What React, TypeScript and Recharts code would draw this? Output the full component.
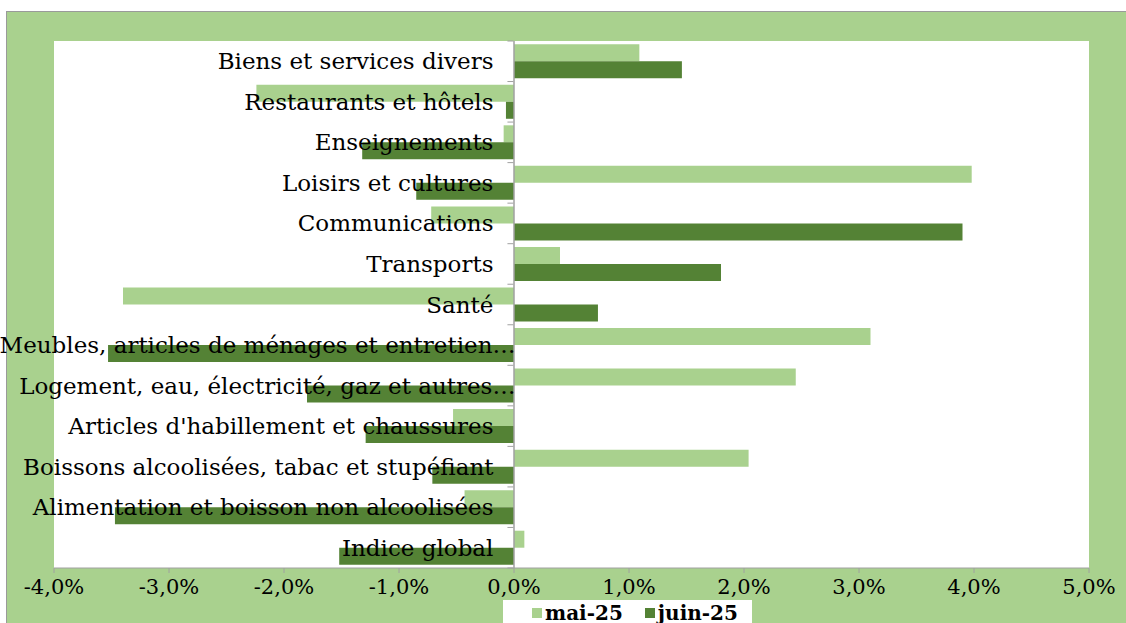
import React from "react";
import { Bar, BarChart, CartesianGrid, Legend, ReferenceLine, XAxis, YAxis } from "recharts";

const categories = [
  "Biens et services divers",
  "Restaurants et hôtels",
  "Enseignements",
  "Loisirs et cultures",
  "Communications",
  "Transports",
  "Santé",
  "Meubles, articles de ménages et entretien…",
  "Logement, eau, électricité, gaz et autres…",
  "Articles d'habillement et chaussures",
  "Boissons alcoolisées, tabac et stupéfiant",
  "Alimentation et boisson non alcoolisées",
  "Indice global",
];

const mai25 = [1.09, -2.24, -0.09, 3.98, -0.72, 0.4, -3.4, 3.1, 2.45, -0.53, 2.04, -0.43, 0.09];
const juin25 = [1.46, -0.07, -1.32, -0.85, 3.9, 1.8, 0.73, -3.53, -1.8, -1.29, -0.71, -3.47, -1.52];

const xTicks = [-4, -3, -2, -1, 0, 1, 2, 3, 4, 5];

const data = categories.map((name, i) => ({ name, mai: mai25[i], juin: juin25[i] }));

const W = 1126;
const H = 623;
const X_AXIS_H = 30;
const margin = { top: 41, right: 37, left: 53, bottom: 55 - X_AXIS_H };
const plotW = W - margin.left - margin.right;
const plotH = H - margin.top - margin.bottom - X_AXIS_H;
const zeroX = margin.left + ((0 - xTicks[0]) / (xTicks[xTicks.length - 1] - xTicks[0])) * plotW;
const band = plotH / categories.length;

const FONT = "'DejaVu Serif', serif";
const LIGHT = "#a9d18e";
const DARK = "#548235";
const GREY = "#a0a0a0";

function CategoryTick(props: any) {
  const { y, payload, index } = props;
  const label: string = payload.value;
  const long = label.endsWith("…");
  const last = index === categories.length - 1;
  return (
    <g>
      <line x1={zeroX - 6} x2={zeroX} y1={y - band / 2} y2={y - band / 2} stroke={GREY} />
      {last && <line x1={zeroX - 6} x2={zeroX} y1={y + band / 2} y2={y + band / 2} stroke={GREY} />}
      <text
        x={long ? zeroX + 2 : zeroX - 20}
        y={y}
        dy="0.35em"
        textAnchor="end"
        fill="#000"
        fontSize={23}
        fontFamily={FONT}
      >
        {label}
      </text>
    </g>
  );
}

function LegendBox(props: any) {
  const items = (props.payload || []).slice().sort((a: any, b: any) =>
    a.dataKey === "mai" ? -1 : b.dataKey === "mai" ? 1 : 0
  );
  return (
    <div
      style={{
        display: "flex",
        alignItems: "center",
        paddingLeft: 29,
        width: 249,
        height: 26,
        whiteSpace: "nowrap",
        fontFamily: FONT,
        fontWeight: "bold",
        fontSize: 20,
        color: "#000",
        boxSizing: "border-box",
      }}
    >
      {items.map((it: any) => (
        <span key={it.value} style={{ display: "inline-flex", alignItems: "center", marginRight: 22 }}>
          <span style={{ width: 10, height: 10, background: it.color, marginRight: 3, display: "inline-block" }} />
          {it.value}
        </span>
      ))}
    </div>
  );
}

export default function App() {
  return (
    <div style={{ position: "absolute", left: 0, top: 0, width: W, height: H, overflow: "hidden", background: "#fff" }}>
      <div
        style={{
          position: "absolute",
          left: 6,
          top: 11,
          width: 1300,
          height: 800,
          background: LIGHT,
          border: "1px solid #9a9a9a",
        }}
      />
      <div style={{ position: "absolute", left: 0, top: 0 }}>
        <BarChart
          width={W}
          height={H}
          data={data}
          layout="vertical"
          margin={margin}
          barCategoryGap="8%"
          barGap={0}
        >
          <CartesianGrid fill="#fff" horizontal={false} vertical={false} />
          <XAxis
            type="number"
            domain={[xTicks[0], xTicks[xTicks.length - 1]]}
            ticks={xTicks}
            height={X_AXIS_H}
            tickFormatter={(v: number) => v.toFixed(1).replace(".", ",") + "%"}
            tick={{ fill: "#000", fontSize: 21, fontFamily: FONT }}
            stroke={GREY}
            tickSize={5}
            tickMargin={6}
          />
          <YAxis
            type="category"
            dataKey="name"
            width={1}
            axisLine={false}
            tickLine={false}
            interval={0}
            tick={(p: any) => <CategoryTick {...p} />}
          />
          <Bar name="mai-25" dataKey="mai" fill={LIGHT} isAnimationActive={false} />
          <Bar name="juin-25" dataKey="juin" fill={DARK} isAnimationActive={false} />
          <ReferenceLine x={0} stroke={GREY} strokeWidth={1.5} />
          <Legend
            layout="horizontal"
            verticalAlign="middle"
            align="center"
            content={(p: any) => <LegendBox {...p} />}
            wrapperStyle={{
              position: "absolute",
              left: 503,
              top: 600,
              width: 249,
              height: 26,
              background: "#fff",
            }}
          />
        </BarChart>
      </div>
    </div>
  );
}
